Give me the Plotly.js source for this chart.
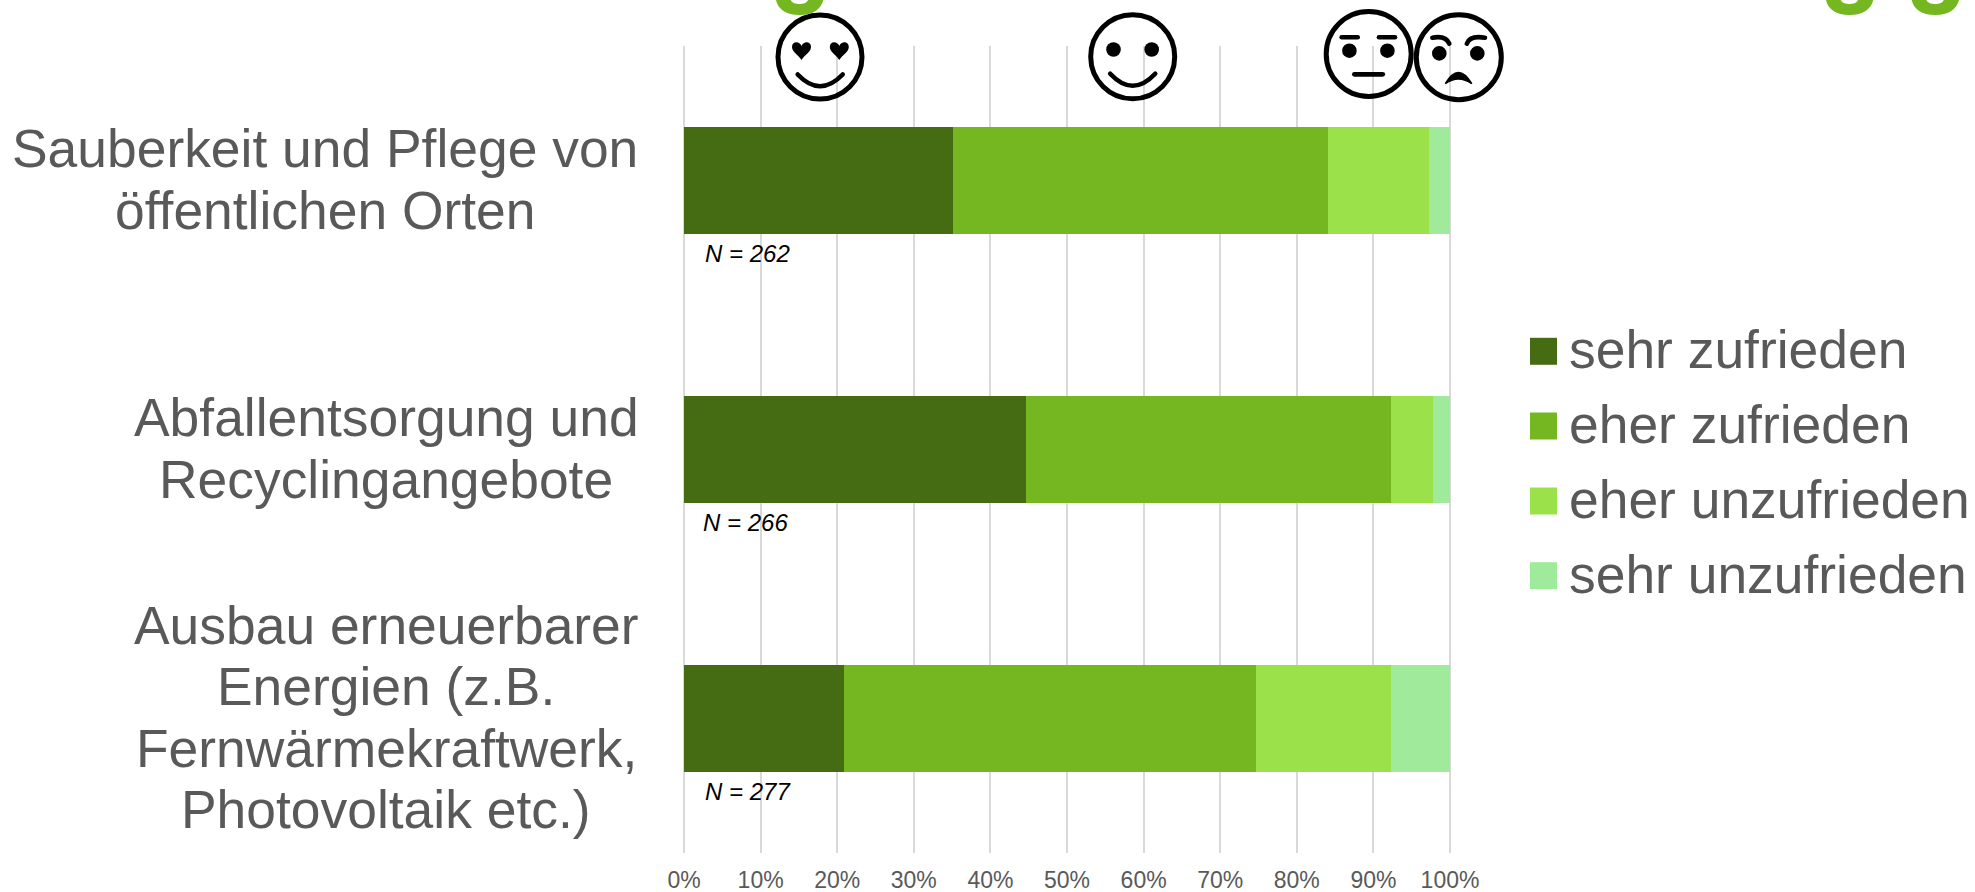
<!DOCTYPE html>
<html>
<head>
<meta charset="utf-8">
<script src="https://cdn.plot.ly/plotly-3.0.1.min.js"></script>
<style>
html,body{margin:0;padding:0;background:#fff;overflow:hidden}
#chart{width:1975px;height:892px}
.shapelayer path{stroke-linecap:round}
</style>
</head>
<body>
<div id="chart"></div>
<script>
const categoryLines = [
  ["Sauberkeit und Pflege von", "öffentlichen Orten"],
  ["Abfallentsorgung und", "Recyclingangebote"],
  ["Ausbau erneuerbarer", "Energien (z.B.", "Fernwärmekraftwerk,", "Photovoltaik etc.)"]
];
const categories = categoryLines.map(l => l.join(" "));
const sehrZufrieden = [35.1, 44.7, 20.9];
const eherZufrieden = [49.0, 47.6, 53.8];
const eherUnzufrieden = [13.1, 5.5, 17.6];
const sehrUnzufrieden = [2.8, 2.2, 7.7];
const sampleSizes = [262, 266, 277];
const seriesNames = ["sehr zufrieden", "eher zufrieden", "eher unzufrieden", "sehr unzufrieden"];
const seriesValues = [sehrZufrieden, eherZufrieden, eherUnzufrieden, sehrUnzufrieden];
const seriesColors = ["#466c13", "#74b720", "#9be24a", "#9feb9b"];
const xTicks = [0, 10, 20, 30, 40, 50, 60, 70, 80, 90, 100];

// plot box is 2px wider than the 0-100% span on each side so Plotly keeps the end gridlines
const L = 682, R = 1452, T = 46, B = 853;
const unitPx = 7.66;
const px = x => (x - L) / (R - L);
const py = y => (B - y) / (B - T);
const F = "Liberation Sans, Arial, sans-serif";
const GREY = "#595959";

const traces = seriesNames.map((name, i) => ({
  type: "bar", orientation: "h", name,
  y: categories, x: seriesValues[i],
  marker: {color: seriesColors[i], line: {width: 0}},
  hovertemplate: "%{y}<br>" + name + ": %{x}%<extra></extra>"
}));

const annotations = [];
const blockX = [325, 386, 386];
const LINE = 61.2;
categoryLines.forEach((lines, c) => {
  lines.forEach((text, i) => {
    annotations.push({
      text, xref: "paper", yref: "y", x: px(blockX[c]), y: categories[c],
      xanchor: "center", yanchor: "middle", showarrow: false,
      yshift: ((lines.length - 1) / 2 - i) * LINE + 1,
      font: {family: F, size: 53.4, color: GREY}
    });
  });
  annotations.push({
    text: "<i>N = " + sampleSizes[c] + "</i>", xref: "paper", yref: "y",
    x: px(c === 1 ? 701 : 703), y: categories[c], xanchor: "left", yanchor: "middle",
    showarrow: false, yshift: -73,
    font: {family: F, size: 24, color: "#000000"}
  });
});

const shapes = [];
const legendY = [351.3, 426, 501, 575.7];
seriesNames.forEach((name, i) => {
  shapes.push({type: "rect", xref: "paper", yref: "paper",
    x0: px(1530), x1: px(1557), y0: py(legendY[i] - 13.5), y1: py(legendY[i] + 13.5),
    fillcolor: seriesColors[i], line: {width: 0}});
  annotations.push({text: name, xref: "paper", yref: "paper", x: px(1567), y: py(legendY[i] - 1.5),
    xanchor: "left", yanchor: "middle", showarrow: false,
    font: {family: F, size: 53.4, color: GREY}});
});

// pixel-path helper: tokens are commands or [x,y] offsets from a centre
function path(cx, cy, parts) {
  return parts.map(p => typeof p === "string" ? p
    : px(cx + p[0]) + "," + py(cy + p[1])).join(" ");
}
function stroke(cx, cy, parts, w) {
  shapes.push({type: "path", xref: "paper", yref: "paper", path: path(cx, cy, parts),
    line: {color: "#000", width: w}, fillcolor: "rgba(0,0,0,0)"});
}
function fill(cx, cy, parts, color) {
  shapes.push({type: "path", xref: "paper", yref: "paper", path: path(cx, cy, parts),
    line: {width: 0}, fillcolor: color});
}
function ring(cx, cy, r) {
  shapes.push({type: "circle", xref: "paper", yref: "paper",
    x0: px(cx - r), x1: px(cx + r), y0: py(cy + r), y1: py(cy - r),
    line: {color: "#000", width: 5}, fillcolor: "rgba(0,0,0,0)"});
}
function dot(cx, cy, r) {
  shapes.push({type: "circle", xref: "paper", yref: "paper",
    x0: px(cx - r), x1: px(cx + r), y0: py(cy + r), y1: py(cy - r),
    line: {width: 0}, fillcolor: "#000"});
}
function heart(hx, hy) {
  fill(hx, hy, ["M",[0,9],"C",[-3,4],[-9.5,1],[-9.5,-4],"C",[-9.5,-10],[-2,-10],[0,-5],
    "C",[2,-10],[9.5,-10],[9.5,-4],"C",[9.5,1],[3,4],[0,9],"Z"], "#000");
}

// face 1: hearts
ring(820, 57, 42);
heart(820 - 18.5, 51); heart(820 + 19.3, 51);
stroke(820, 57, ["M",[-22.3,17.5],"Q",[0,41],[22.7,17.5]], 4.6);
// face 2: smile
ring(1132.7, 56.7, 42);
dot(1132.7 - 19.2, 49.5, 7.3); dot(1132.7 + 19, 49.5, 7.3);
stroke(1132.7, 56.7, ["M",[-22.5,17],"Q",[0,41],[22.5,17]], 4.6);
// face 3: neutral
ring(1368.7, 54, 42.5);
dot(1368.7 - 19.3, 50.7, 7.3); dot(1368.7 + 18.7, 50.7, 7.3);
stroke(1368.7, 54, ["M",[-27,-16.7],"L",[-11,-16.7]], 4.6);
stroke(1368.7, 54, ["M",[10.3,-16.7],"L",[26.3,-16.7]], 4.6);
stroke(1368.7, 54, ["M",[-14.3,20.3],"L",[14,20.3]], 4.8);
// face 4: angry
ring(1458.8, 57.2, 42.5);
dot(1458.8 - 19.5, 53.4, 7.3); dot(1458.8 + 18.5, 53.4, 7.3);
stroke(1458.8, 57.2, ["M",[-26.5,-19.5],"Q",[-13,-22],[-9.5,-13.5]], 4.6);
stroke(1458.8, 57.2, ["M",[26.2,-19.5],"Q",[11,-22],[8,-13.5]], 4.6);
const frown = ["M",[-13.5,26.5],"Q",[-0.5,4],[13,26.5],"Q",[-0.5,17],[-13.5,26.5],"Z"];
fill(1458.8, 57.2, frown, "#000");
stroke(1458.8, 57.2, frown, 1.5);

// descenders of the cropped green heading
[776, 1826, 1911.7].forEach(x0 => {
  fill(x0, 0, ["M",[0,-4],"L",[0,0],"C",[2,9],[10,15],[23.6,15],"C",[37,15],[45,9],[47.3,0],"L",[47.3,-4],"Z",
    "M",[14.7,-4],"L",[14.7,0],"C",[16,3],[20,4],[23.6,4],"C",[27,4],[31,3],[32,0],"L",[32,-4],"Z"], "#74b720");
});

const layout = {
  width: 1975, height: 892,
  margin: {l: L, r: 1975 - R, t: T, b: 892 - B, pad: 0},
  paper_bgcolor: "#fff", plot_bgcolor: "#fff",
  barmode: "stack", bargap: 0.6, showlegend: false,
  xaxis: {
    range: [-2 / unitPx, 100 + 2 / unitPx], tickvals: xTicks, ticktext: xTicks.map(v => v + "%"),
    showgrid: true, gridcolor: "#d9d9d9", gridwidth: 2,
    zeroline: false, showline: false, ticks: "", ticklabelstandoff: 11,
    tickfont: {family: F, size: 23, color: GREY}
  },
  yaxis: {
    type: "category", categoryorder: "array", categoryarray: categories,
    autorange: "reversed", showticklabels: false, ticks: "",
    showgrid: false, zeroline: false, showline: false
  },
  shapes, annotations,
  font: {family: F}
};
Plotly.newPlot("chart", traces, layout, {displayModeBar: false, responsive: false});
</script>
</body>
</html>
